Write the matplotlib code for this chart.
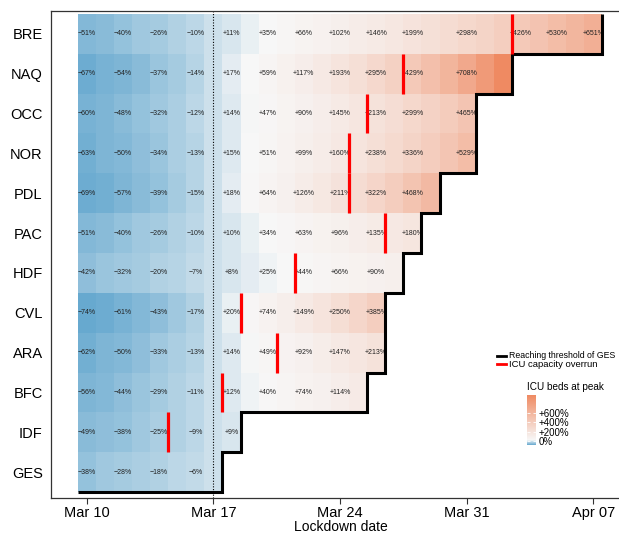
import matplotlib
matplotlib.use("Agg")
import matplotlib.pyplot as plt
from matplotlib.colors import LinearSegmentedColormap, Normalize
from matplotlib.cm import ScalarMappable
from matplotlib.lines import Line2D
import numpy as np

plt.rcParams['font.family'] = ['Liberation Sans', 'DejaVu Sans']

#%%%#   Data   #%%%#
# days are counted as day of March (Apr 1 = 32)
regions = ["BRE", "NAQ", "OCC", "NOR", "PDL", "PAC", "HDF", "CVL", "ARA", "BFC", "IDF", "GES"]
first_day = 10
lockdown_day = 17

# ICU beds at peak (% change), one value per day from Mar 10 to the last day of each row
bre = [-51, -46, -40, -33, -26, -18, -10, 0, 11, 22, 35, 50, 66, 83, 102, 123, 146, 171, 199, 229, 262, 298, 337, 379, 426, 476, 530, 588, 651]
naq = [-67, -61, -54, -46, -37, -26, -14, 0, 17, 36, 59, 86, 117, 152, 193, 240, 295, 357, 429, 509, 602, 708, 829, 969]
occ = [-60, -54, -48, -41, -32, -23, -12, 0, 14, 29, 47, 67, 90, 116, 145, 177, 213, 253, 299, 348, 403, 465]
nor = [-63, -57, -50, -43, -34, -24, -13, 0, 15, 32, 51, 73, 99, 127, 160, 196, 238, 284, 336, 393, 457, 529]
pdl = [-69, -63, -57, -49, -39, -28, -15, 0, 18, 39, 64, 93, 126, 165, 211, 262, 322, 390, 468, 559]
pac = [-51, -46, -40, -33, -26, -18, -10, 0, 10, 21, 34, 48, 63, 79, 96, 115, 135, 157, 180]
hdf = [-42, -37, -32, -26, -20, -14, -7, 0, 8, 16, 25, 34, 44, 55, 66, 78, 90, 103]
cvl = [-74, -68, -61, -53, -43, -31, -17, 0, 20, 45, 74, 108, 149, 195, 250, 312, 385]
ara = [-62, -56, -50, -42, -33, -24, -13, 0, 14, 30, 49, 69, 92, 118, 147, 178, 213]
bfc = [-56, -50, -44, -37, -29, -21, -11, 0, 12, 25, 40, 56, 74, 93, 114, 138]
idf = [-49, -44, -38, -32, -25, -17, -9, 0, 9]
ges = [-38, -33, -28, -23, -18, -12, -6, 0]
series = [bre, naq, occ, nor, pdl, pac, hdf, cvl, ara, bfc, idf, ges]

# last day before ICU capacity overrun (None = no overrun)
overrun_day = [33, 27, 25, 24, 24, 26, 21, 18, 20, 17, 14, None]

# days that carry a text label
label_days = [10, 12, 14, 16, 18, 20, 22, 24, 26, 28, 31, 34, 36, 38]

tick_days = [10, 17, 24, 31, 38]
tick_labels = ["Mar 10", "Mar 17", "Mar 24", "Mar 31", "Apr 07"]
cbar_ticks = [0, 200, 400, 600]
cbar_labels = ["0%", "+200%", "+400%", "+600%"]

#%%%#   Colour scale   #%%%#
vmin = min(min(s) for s in series)
vmax = max(max(s) for s in series)
white_at = 30
cmap = LinearSegmentedColormap.from_list(
    "icu", [(0, "#67a9cf"), ((white_at - vmin) / (vmax - vmin), "#f7f7f7"), (1, "#ef8a62")])
norm = Normalize(vmin=vmin, vmax=vmax)

#%%%#   Grid   #%%%#
n_rows = len(regions)
last_day = max(first_day + len(s) - 1 for s in series)
days = np.arange(first_day, last_day + 1)
Z = np.full((n_rows, len(days)), np.nan)
for i, s in enumerate(series):
    Z[n_rows - 1 - i, :len(s)] = s

fig = plt.figure(figsize=(6.19, 5.34), dpi=100)
ax = fig.add_axes([0.0824, 0.0674, 0.9354, 0.912])

x_edges = np.arange(first_day - 0.5, last_day + 1.5)
y_edges = np.arange(-0.5, n_rows + 0.5)
ax.pcolormesh(x_edges, y_edges, np.ma.masked_invalid(Z), cmap=cmap, norm=norm, zorder=1)

# text labels
for i, s in enumerate(series):
    y = n_rows - 1 - i
    for d in label_days:
        k = d - first_day
        if k < len(s):
            v = s[k]
            if v > 0:
                txt = f"+{v}%"
            elif v < 0:
                txt = f"\u2212{abs(v)}%"
            else:
                txt = "0%"
            ax.text(d, y, txt, ha='center', va='center', fontsize=5, color='#222222', zorder=3)

# lockdown date
ax.axvline(lockdown_day, color='black', linestyle=(0, (1, 1.5)), linewidth=0.8, zorder=2)

# threshold step line
xs = [first_day - 0.5]
ys = [-0.5]
for k in range(n_rows):
    e = first_day + len(series[n_rows - 1 - k]) - 1
    xs += [e + 0.5, e + 0.5]
    ys += [k - 0.5, k + 0.5]
ax.plot(xs, ys, color='black', linewidth=2.2, solid_joinstyle='miter', solid_capstyle='butt', zorder=4)

# ICU capacity overrun
for i, d in enumerate(overrun_day):
    if d is None:
        continue
    y = n_rows - 1 - i
    ax.plot([d + 0.5, d + 0.5], [y - 0.5, y + 0.5], color='red', linewidth=2.3,
            solid_capstyle='butt', zorder=5)

# axes
ax.set_xlim(8.02, 40.03)
ax.set_ylim(-0.65, n_rows - 0.425)
ax.set_xticks(tick_days)
ax.set_xticklabels(tick_labels)
ax.set_yticks(range(n_rows))
ax.set_yticklabels(regions[::-1])
ax.tick_params(axis='x', length=4, width=0.8, color='#333333', labelsize=10.5, pad=1.5, labelcolor='black')
ax.tick_params(axis='y', length=0, labelsize=10.5, pad=6, labelcolor='black')
ax.set_xlabel("Lockdown date", fontsize=10, labelpad=0)
for side in ['left', 'bottom', 'top']:
    ax.spines[side].set_color('#333333')
    ax.spines[side].set_linewidth(0.9)
ax.spines['right'].set_visible(False)

#%%%#   Legend   #%%%#
W, H = 619, 534
def fx(px):
    return px / W
def fy(py):
    return 1 - py / H

fig.add_artist(Line2D([fx(497), fx(506)], [fy(355.7), fy(355.7)], color='black', linewidth=2, transform=fig.transFigure))
fig.add_artist(Line2D([fx(497), fx(506)], [fy(364.3), fy(364.3)], color='red', linewidth=2, transform=fig.transFigure))
fig.text(fx(509), fy(355.7), "Reaching threshold of GES", fontsize=6.3, va='center', ha='left')
fig.text(fx(509), fy(364.3), "ICU capacity overrun", fontsize=6.8, va='center', ha='left')
fig.text(fx(527), fy(386.7), "ICU beds at peak", fontsize=7.2, va='center', ha='left')

cax = fig.add_axes([fx(527), fy(445), 9 / W, 50 / H])
cb = fig.colorbar(ScalarMappable(norm=norm, cmap=cmap), cax=cax)
cb.outline.set_visible(False)
cb.set_ticks(cbar_ticks)
cb.set_ticklabels(cbar_labels)
cax.yaxis.set_ticks_position('both')
cax.tick_params(direction='in', color='white', length=2, width=0.6, labelsize=7, pad=2,
                labelleft=False, labelright=True)

fig.savefig("out.png", dpi=100)
